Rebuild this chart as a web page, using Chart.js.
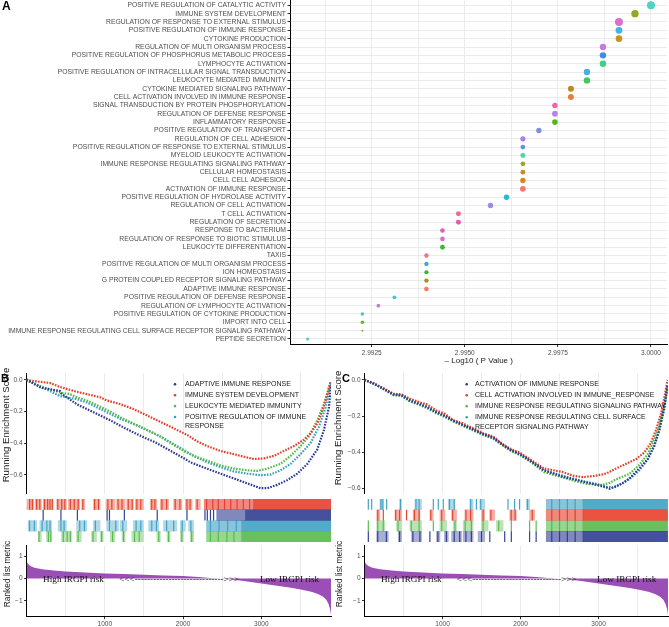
<!DOCTYPE html>
<html>
<head>
<meta charset="utf-8">
<script src="https://cdn.jsdelivr.net/npm/chart.js@4.4.1/dist/chart.umd.min.js"></script>
<style>
  html, body { margin: 0; padding: 0; background: #fff; }
  #page { position: relative; width: 669px; height: 627px; overflow: hidden; font-family: 'Liberation Sans', Arial, sans-serif; }
  canvas { position: absolute; }
  .tag { position: absolute; font-weight: bold; font-size: 12px; color: #000; line-height: 1; }
  .ytitle { position: absolute; transform: translate(-50%, -50%) rotate(-90deg); white-space: nowrap; color: #1a1a1a; line-height: 1; }
</style>
</head>
<body>
<div id="page">
  <canvas id="dotPlot" width="669" height="368" style="left:0;top:0"></canvas>

  <canvas id="esB" width="332" height="133" style="left:0;top:366px"></canvas>
  <canvas id="barB" width="332" height="43" style="left:0;top:499px"></canvas>
  <canvas id="metricB" width="332" height="87" style="left:0;top:540px"></canvas>

  <canvas id="esC" width="337" height="133" style="left:332px;top:366px"></canvas>
  <canvas id="barC" width="337" height="43" style="left:332px;top:499px"></canvas>
  <canvas id="metricC" width="337" height="87" style="left:332px;top:540px"></canvas>

  <div class="ytitle" style="left:5.5px;top:425px;font-size:9.6px">Running Enrichment Score</div>
  <div class="ytitle" style="left:7px;top:574px;font-size:8.4px">Ranked list metric</div>
  <div class="ytitle" style="left:338px;top:428px;font-size:9.6px">Running Enrichment Score</div>
  <div class="ytitle" style="left:339px;top:574px;font-size:8.4px">Ranked list metric</div>

  <div class="tag" style="left:2px;top:0">A</div>
  <div class="tag" style="left:1px;top:373px;font-size:11px">B</div>
  <div class="tag" style="left:342px;top:373px;font-size:11px">C</div>
</div>

<script>
// ---------- panel A data ----------
const termNames = [
  'POSITIVE REGULATION OF CATALYTIC ACTIVITY',
  'IMMUNE SYSTEM DEVELOPMENT',
  'REGULATION OF RESPONSE TO EXTERNAL STIMULUS',
  'POSITIVE REGULATION OF IMMUNE RESPONSE',
  'CYTOKINE PRODUCTION',
  'REGULATION OF MULTI ORGANISM PROCESS',
  'POSITIVE REGULATION OF PHOSPHORUS METABOLIC PROCESS',
  'LYMPHOCYTE ACTIVATION',
  'POSITIVE REGULATION OF INTRACELLULAR SIGNAL TRANSDUCTION',
  'LEUKOCYTE MEDIATED IMMUNITY',
  'CYTOKINE MEDIATED SIGNALING PATHWAY',
  'CELL ACTIVATION INVOLVED IN IMMUNE RESPONSE',
  'SIGNAL TRANSDUCTION BY PROTEIN PHOSPHORYLATION',
  'REGULATION OF DEFENSE RESPONSE',
  'INFLAMMATORY RESPONSE',
  'POSITIVE REGULATION OF TRANSPORT',
  'REGULATION OF CELL ADHESION',
  'POSITIVE REGULATION OF RESPONSE TO EXTERNAL STIMULUS',
  'MYELOID LEUKOCYTE ACTIVATION',
  'IMMUNE RESPONSE REGULATING SIGNALING PATHWAY',
  'CELLULAR HOMEOSTASIS',
  'CELL CELL ADHESION',
  'ACTIVATION OF IMMUNE RESPONSE',
  'POSITIVE REGULATION OF HYDROLASE ACTIVITY',
  'REGULATION OF CELL ACTIVATION',
  'T CELL ACTIVATION',
  'REGULATION OF SECRETION',
  'RESPONSE TO BACTERIUM',
  'REGULATION OF RESPONSE TO BIOTIC STIMULUS',
  'LEUKOCYTE DIFFERENTIATION',
  'TAXIS',
  'POSITIVE REGULATION OF MULTI ORGANISM PROCESS',
  'ION HOMEOSTASIS',
  'G PROTEIN COUPLED RECEPTOR SIGNALING PATHWAY',
  'ADAPTIVE IMMUNE RESPONSE',
  'POSITIVE REGULATION OF DEFENSE RESPONSE',
  'REGULATION OF LYMPHOCYTE ACTIVATION',
  'POSITIVE REGULATION OF CYTOKINE PRODUCTION',
  'IMPORT INTO CELL',
  'IMMUNE RESPONSE REGULATING CELL SURFACE RECEPTOR SIGNALING PATHWAY',
  'PEPTIDE SECRETION'
];
const log10P = [
  3.0000, 2.99957, 2.99914, 2.99914, 2.99914, 2.99871, 2.99871, 2.99871, 2.99828, 2.99828,
  2.99785, 2.99785, 2.99742, 2.99742, 2.99742, 2.99699, 2.99656, 2.99656, 2.99656, 2.99656,
  2.99656, 2.99656, 2.99656, 2.99612, 2.99569, 2.99483, 2.99483, 2.9944, 2.9944, 2.9944,
  2.99397, 2.99397, 2.99397, 2.99397, 2.99397, 2.99311, 2.99268, 2.99225, 2.99225, 2.99225,
  2.99078
];
const geneCount = [
  178, 152, 178, 128, 121, 114, 114, 114, 114, 114,
  100, 100, 81, 93, 87, 81, 75, 64, 69, 64,
  64, 81, 93, 81, 81, 69, 69, 59, 59, 64,
  54, 54, 49, 54, 59, 40, 40, 36, 36, 11,
  25
];
const pTicks = [2.9925, 2.995, 2.9975, 3.0];
const pMinorTicks = [2.99125, 2.99375, 2.99625, 2.99875];

// ---------- panels B / C data ----------
const N_GENES = 3890;
const rankTicks = [1000, 2000, 3000];
const rankMinorTicks = [500, 1500, 2500, 3500];
const esTicks = [0, -0.2, -0.4, -0.6];
const metricTicks = [1, 0, -1];

// ranked list metric (same ranked list in B and C)
const metricRank  = [0, 20, 50, 100, 200, 350, 500, 750, 1000, 1250, 1500, 1750, 2000, 2200, 2350, 2500,
                     2650, 2800, 3000, 3200, 3400, 3550, 3650, 3730, 3790, 3830, 3860, 3880, 3890];
const metricValue = [0.78, 0.66, 0.56, 0.49, 0.42, 0.36, 0.32, 0.27, 0.23, 0.2, 0.17, 0.14, 0.11, 0.07, 0.03, 0,
                     -0.05, -0.12, -0.22, -0.32, -0.42, -0.52, -0.6, -0.7, -0.82, -0.95, -1.15, -1.4, -1.65];
const riskLabels = ['High IRGPI risk', '<<<----------------------------->>>', 'Low IRGPI risk'];
const riskRank = [600, 1950, 3360];

// B gene sets
const setNamesB = ['ADAPTIVE IMMUNE RESPONSE', 'IMMUNE SYSTEM DEVELOPMENT',
                   'LEUKOCYTE MEDIATED IMMUNITY', 'POSITIVE REGULATION OF IMMUNE\nRESPONSE'];
const esAdaptive = [[0,0],[192,-0.051],[427,-0.071],[448,-0.088],[640,-0.153],[1025,-0.245],[1068,-0.255],
  [1260,-0.306],[1388,-0.337],[1516,-0.367],[1644,-0.394],[2028,-0.5],[2092,-0.52],[2306,-0.561],[2477,-0.592],
  [2647,-0.622],[2818,-0.653],[2989,-0.684],[3075,-0.684],[3203,-0.663],[3331,-0.633],[3459,-0.592],
  [3587,-0.531],[3715,-0.439],[3800,-0.316],[3864,-0.173],[3890,-0.031]];
const esImmuneDev = [[0,0],[128,-0.01],[300,-0.02],[427,-0.045],[640,-0.075],[770,-0.09],[940,-0.11],
  [1025,-0.13],[1195,-0.153],[1366,-0.184],[1537,-0.224],[1708,-0.265],[1879,-0.306],[2050,-0.347],
  [2178,-0.388],[2306,-0.418],[2477,-0.449],[2647,-0.469],[2818,-0.49],[2904,-0.5],[3032,-0.496],
  [3160,-0.48],[3288,-0.449],[3416,-0.418],[3544,-0.378],[3630,-0.337],[3715,-0.276],[3779,-0.194],
  [3843,-0.092],[3886,-0.01]];
const esLeukocyte = [[0,0],[171,-0.04],[300,-0.06],[427,-0.08],[555,-0.09],[640,-0.11],[770,-0.13],
  [940,-0.17],[1068,-0.2],[1195,-0.235],[1366,-0.276],[1537,-0.316],[1708,-0.357],[1836,-0.398],
  [2007,-0.449],[2135,-0.48],[2306,-0.51],[2477,-0.54],[2647,-0.56],[2818,-0.571],[2946,-0.575],
  [3075,-0.561],[3245,-0.53],[3373,-0.48],[3501,-0.418],[3608,-0.357],[3715,-0.255],[3800,-0.153],
  [3886,-0.01]];
const esPosRegImmune = [[0,0],[171,-0.041],[427,-0.102],[640,-0.122],[770,-0.143],[940,-0.184],
  [1195,-0.245],[1452,-0.296],[1708,-0.357],[1964,-0.429],[2135,-0.48],[2306,-0.52],[2477,-0.551],
  [2647,-0.578],[2818,-0.592],[2989,-0.602],[3117,-0.598],[3245,-0.571],[3373,-0.531],[3501,-0.469],
  [3630,-0.398],[3736,-0.296],[3822,-0.173],[3890,-0.02]];

// barcode hits: single hit ranks, and runs of dense hits [from, to]
const hitsAdaptive = [213, 440, 650, 1030, 1060, 1250, 1670, 2050, 2280, 2310, 2350, 2390];
const runsAdaptive = [[2430, 2800], [2800, 3890]];
const hitsImmuneDev = [40, 75, 130, 170, 230, 270, 300, 330, 400, 450, 490, 560, 610, 660, 720, 870, 920,
  1040, 1090, 1170, 1220, 1300, 1350, 1410, 1460, 1600, 1640, 1730, 1790, 1900, 1960, 2050, 2090, 2180,
  2300, 2380, 2450, 2530, 2610, 2690, 2770, 2850];
const runsImmuneDev = [[0,90],[110,190],[215,340],[385,510],[535,680],[705,745],[855,940],[1015,1130],
  [1150,1260],[1280,1365],[1390,1495],[1580,1665],[1710,1815],[1880,1985],[2030,2115],[2160,2220],
  [2270,2900],[2900,3890]];
const hitsLeukocyte = [160, 280, 310, 470, 520, 560, 660, 850, 960, 1100, 1240, 1380, 1440, 1690, 1815, 1985, 2110,
  2350, 2450, 2560, 2650];
const runsLeukocyte = [[150,190],[255,320],[448,575],[640,700],[830,895],[940,980],[1070,1130],[1220,1260],
  [1345,1495],[1665,1710],[1795,1835],[1965,2005],[2090,2135],[2300,2750],[2750,3890]];
const hitsPosRegImmune = [40, 100, 200, 260, 300, 440, 480, 680, 740, 880, 1060, 1140, 1230, 1400, 1460,
  1600, 1660, 1790, 1880, 1990, 2100, 2350, 2460, 2570, 2680];
const runsPosRegImmune = [[20,130],[170,320],[405,510],[640,770],[855,940],[1025,1175],[1195,1280],
  [1365,1495],[1560,1690],[1750,1920],[1965,2030],[2070,2135],[2300,2750],[2750,3890]];

// C gene sets
const setNamesC = ['ACTIVATION OF IMMUNE RESPONSE', 'CELL ACTIVATION INVOLVED IN IMMUNE_RESPONSE',
                   'IMMUNE RESPONSE REGULATING SIGNALING PATHWAY',
                   'IMMUNE RESPONSE REGULATING CELL SURFACE\nRECEPTOR SIGNALING PATHWAY'];
const esActivation = [[0,0],[113,-0.02],[241,-0.05],[369,-0.08],[475,-0.085],[582,-0.115],[710,-0.135],
  [795,-0.15],[923,-0.18],[1030,-0.2],[1136,-0.225],[1264,-0.25],[1392,-0.275],[1520,-0.3],[1648,-0.32],
  [1776,-0.36],[1882,-0.39],[1988,-0.41],[2116,-0.445],[2300,-0.5],[2544,-0.536],[2800,-0.5625],
  [2970,-0.58],[3098,-0.595],[3140,-0.602],[3225,-0.59],[3310,-0.571],[3395,-0.545],[3524,-0.49],
  [3630,-0.4375],[3715,-0.366],[3779,-0.277],[3843,-0.152],[3885,-0.027]];
const esCellAct = [[0,0],[113,-0.018],[241,-0.045],[369,-0.077],[475,-0.08],[582,-0.104],[710,-0.125],
  [795,-0.134],[923,-0.17],[1030,-0.187],[1136,-0.223],[1264,-0.241],[1392,-0.268],[1520,-0.295],
  [1648,-0.313],[1776,-0.357],[1882,-0.384],[1988,-0.402],[2116,-0.438],[2300,-0.49],[2544,-0.51],
  [2672,-0.53],[2800,-0.538],[2970,-0.53],[3098,-0.518],[3225,-0.49],[3353,-0.464],[3481,-0.438],
  [3587,-0.402],[3672,-0.348],[3736,-0.277],[3800,-0.188],[3843,-0.098],[3885,0]];
const esSignaling = [[0,0],[113,-0.02],[241,-0.05],[369,-0.085],[475,-0.09],[582,-0.12],[710,-0.14],
  [795,-0.155],[923,-0.185],[1030,-0.205],[1136,-0.23],[1264,-0.255],[1392,-0.28],[1520,-0.305],
  [1648,-0.325],[1776,-0.365],[1882,-0.395],[1988,-0.415],[2116,-0.45],[2300,-0.51],[2544,-0.54],
  [2700,-0.56],[2850,-0.575],[2970,-0.58],[3050,-0.58],[3140,-0.57],[3225,-0.55],[3395,-0.52],
  [3524,-0.47],[3630,-0.41],[3715,-0.33],[3779,-0.25],[3843,-0.14],[3885,-0.04]];
const esSurface = [[0,0],[113,-0.02],[241,-0.048],[369,-0.08],[475,-0.083],[582,-0.11],[710,-0.13],
  [795,-0.145],[923,-0.175],[1030,-0.195],[1136,-0.225],[1264,-0.25],[1392,-0.272],[1520,-0.3],
  [1648,-0.318],[1776,-0.36],[1882,-0.39],[1988,-0.41],[2116,-0.445],[2300,-0.5],[2544,-0.53],
  [2800,-0.56],[2970,-0.575],[3098,-0.59],[3180,-0.595],[3270,-0.58],[3395,-0.55],[3524,-0.5],
  [3630,-0.44],[3715,-0.36],[3779,-0.28],[3843,-0.16],[3885,-0.03]];

const hitsSurface = [49, 92, 210, 235, 284, 460, 660, 700, 882, 946, 1010, 1090, 1150, 1360, 1434, 1490,
  1839, 1924, 1988, 2090, 2400, 2500, 2600, 2700];
const runsSurface = [[198,241],[454,475],[646,731],[1074,1159],[1350,1392],[1477,1541],[2073,2116],
  [2330,2800],[2800,3885]];
const hitsCellAct = [170, 241, 400, 450, 539, 640, 700, 850, 990, 1130, 1300, 1360, 1520, 1620, 1880, 1930, 2150,
  2400, 2500, 2600, 2700];
const runsCellAct = [[156,198],[390,475],[624,710],[838,880],[967,1031],[1116,1180],[1286,1392],[1499,1541],
  [1605,1669],[1861,1946],[2116,2180],[2330,2800],[2800,3885]];
const hitsSignaling = [49, 170, 240, 430, 600, 700, 882, 990, 1160, 1290, 1370, 1520, 1720, 1882, 2116, 2200,
  2400, 2500, 2600, 2700];
const runsSignaling = [[156,262],[411,475],[582,731],[967,1052],[1137,1180],[1265,1392],[1499,1584],[1690,1776],
  [2330,2800],[2800,3885]];
const hitsActivation = [49, 170, 280, 450, 620, 710, 838, 940, 1050, 1150, 1220, 1300, 1370, 1500, 1606, 1797,
  1882, 2116, 2200, 2400, 2500, 2600, 2700];
const runsActivation = [[156,305],[433,475],[603,731],[923,967],[1024,1074],[1116,1244],[1265,1392],[1456,1541],
  [2330,2800],[2800,3885]];

// ---------- styles ----------
const dotColors = [
  '#4fd3c4', '#93aa1f', '#d96fd0', '#3db5e6', '#c99320', '#c97ad9', '#3f8fe0', '#3fcf86', '#47afe2', '#44c65e',
  '#c5861c', '#e8803d', '#f064a8', '#b882e6', '#55b81a', '#7d8fe0', '#ab80e6', '#5b97dd', '#4fd7a0', '#9aa62c',
  '#d6861f', '#d6861f', '#f8766d', '#25b8d0', '#9c8de2', '#f2679a', '#e05cb8', '#e55db0', '#d66bd6', '#34bd30',
  '#f6718a', '#44a3e3', '#30b934', '#a8911e', '#f47b62', '#3cc8d8', '#c47ad7', '#3fc7d3', '#64b82e', '#a89a30',
  '#43d3b3'
];
const NAVY = '#2b3990', RED = '#e63b26', GREEN = '#52b947', CYAN = '#3a9fc2', PURPLE = '#9b4fb6';
const GRID = '#ebebeb', TICKTXT = '#4d4d4d';
const ROW_H = 10.75;

Chart.defaults.font.family = "'Liberation Sans', Arial, sans-serif";
Chart.defaults.animation = false;
Chart.defaults.events = [];
Chart.defaults.layout.autoPadding = false;
Chart.defaults.plugins.legend.display = false;
Chart.defaults.plugins.tooltip.enabled = false;

function rgba(hex, a) {
  const n = parseInt(hex.slice(1), 16);
  return `rgba(${n >> 16},${(n >> 8) & 255},${n & 255},${a})`;
}

// run shade: longer runs of hits are denser
function runAlpha(raw) {
  if (!raw) return 0.4;
  const len = raw.x[1] - raw.x[0];
  return len > 900 ? 0.88 : len > 350 ? 0.6 : 0.4;
}

// ---------- panel A ----------
new Chart(document.getElementById('dotPlot'), {
  type: 'scatter',
  data: {
    datasets: [{
      data: log10P.map((v, i) => ({ x: v, y: i + 1 })),
      pointRadius: geneCount.map(n => Math.sqrt(n) * 0.3),
      backgroundColor: dotColors,
      borderWidth: 0
    }]
  },
  options: {
    responsive: false,
    layout: { padding: { top: 0.3, right: 2, left: 0, bottom: 0 } },
    scales: {
      x: {
        type: 'linear', min: 2.99032, max: 3.00043,
        afterBuildTicks: s => { s.ticks = [...pTicks, ...pMinorTicks].sort((a, b) => a - b).map(v => ({ value: v })); },
        ticks: { autoSkip: false, maxRotation: 0, font: { size: 6.5 }, color: TICKTXT, padding: 2,
                 callback: v => pTicks.includes(v) ? v.toFixed(4) : '' },
        grid: { color: GRID, tickLength: 3,
                tickColor: c => (c.tick && pTicks.includes(c.tick.value)) ? '#333' : 'rgba(0,0,0,0)' },
        border: { color: '#000' },
        title: { display: true, text: '\u2013 Log10 ( P Value )', font: { size: 8 }, color: '#1a1a1a', padding: { top: 0, bottom: 2 } },
        afterFit: s => { s.height = 24; s.paddingLeft = 0; s.paddingRight = 0; }
      },
      y: {
        type: 'linear', reverse: true, min: 0.4, max: 41.6,
        afterBuildTicks: s => { s.ticks = termNames.map((_, i) => ({ value: i + 1 })); },
        ticks: { autoSkip: false, font: { size: 6.8 }, color: TICKTXT, padding: 1.5, callback: v => termNames[v - 1] },
        grid: { color: GRID, tickLength: 3, tickColor: '#333' },
        border: { color: '#000' },
        afterFit: s => { s.width = 290.5; s.paddingTop = 0; s.paddingBottom = 0; }
      }
    }
  }
});

// ---------- panels B / C ----------
const setLegend = {
  id: 'setLegend',
  afterDatasetsDraw(chart, args, opts) {
    const ctx = chart.ctx;
    ctx.save();
    ctx.font = "7px 'Liberation Sans', Arial, sans-serif";
    ctx.textBaseline = 'middle';
    let y = opts.top;
    chart.data.datasets.forEach(ds => {
      ctx.fillStyle = ds.borderColor;
      ctx.beginPath();
      ctx.arc(opts.dotX, y, 1.3, 0, Math.PI * 2);
      ctx.fill();
      ctx.fillStyle = '#1a1a1a';
      const lines = ds.label.split('\n');
      lines.forEach((t, k) => ctx.fillText(t, opts.textX, y + k * opts.lineGap));
      y += opts.rowGap + (lines.length - 1) * opts.lineGap;
    });
    ctx.restore();
  }
};

const riskText = {
  id: 'riskText',
  afterDatasetsDraw(chart) {
    const { ctx, scales: { x, y } } = chart;
    ctx.save();
    ctx.font = "9.2px 'Liberation Serif', 'Times New Roman', serif";
    ctx.textAlign = 'center';
    ctx.textBaseline = 'middle';
    ctx.fillStyle = '#111';
    riskLabels.forEach((t, i) => ctx.fillText(t, x.getPixelForValue(riskRank[i]), y.getPixelForValue(0) + 1));
    ctx.restore();
  }
};

function rankAxis(withLabels) {
  return {
    type: 'linear', min: 0, max: N_GENES,
    afterBuildTicks: s => { s.ticks = [...rankTicks, ...rankMinorTicks].sort((a, b) => a - b).map(v => ({ value: v })); },
    ticks: { display: withLabels, autoSkip: false, maxRotation: 0, font: { size: 6.5 }, color: TICKTXT, padding: 1,
             callback: v => rankTicks.includes(v) ? String(v) : '' },
    grid: { color: GRID, drawTicks: withLabels, tickLength: 2.5,
            tickColor: c => (c.tick && rankTicks.includes(c.tick.value)) ? '#333' : 'rgba(0,0,0,0)' },
    border: { display: withLabels, color: '#000' },
    afterFit: s => { s.height = withLabels ? 10.3 : 0; }
  };
}

function valueAxis(min, max, ticks, fmt, width) {
  return {
    type: 'linear', min, max,
    afterBuildTicks: s => { s.ticks = ticks.map(v => ({ value: v })); },
    ticks: { font: { size: 6.5 }, color: TICKTXT, padding: 1.5, callback: fmt },
    grid: { drawOnChartArea: false, tickLength: 2.5, tickColor: '#333' },
    border: { color: '#000' },
    afterFit: s => { s.width = width; }
  };
}

const fmtES = v => v === 0 ? '0.0' : '\u2212' + Math.abs(v).toFixed(1);
const fmtMetric = v => v < 0 ? '\u2212' + Math.abs(v) : String(v);

function esChart(id, sets, yMin, yMax, plotLeft, padRight, legendOpts) {
  new Chart(document.getElementById(id), {
    type: 'scatter',
    data: {
      datasets: sets.map(s => ({
        label: s.name,
        data: s.es.map(p => ({ x: p[0], y: p[1] })),
        showLine: true,
        borderColor: s.color,
        borderWidth: 2.2,
        borderDash: [1.6, 1.3],
        pointRadius: 0
      }))
    },
    options: {
      responsive: false,
      layout: { padding: { top: 7, right: padRight, bottom: 2, left: 0 } },
      plugins: { setLegend: legendOpts },
      scales: {
        x: rankAxis(false),
        y: valueAxis(yMin, yMax, esTicks, fmtES, plotLeft)
      }
    },
    plugins: [setLegend]
  });
}

function barcodeChart(id, sets, plotLeft, padRight) {
  const datasets = [];
  sets.forEach(s => {
    datasets.push({
      type: 'bar', indexAxis: 'y', grouped: false,
      data: s.runs.map(r => ({ x: [r[0], r[1]], y: s.row })),
      backgroundColor: c => rgba(s.color, runAlpha(c.raw)),
      barThickness: ROW_H,
      borderWidth: 0
    });
    datasets.push({
      type: 'scatter',
      data: s.hits.map(h => ({ x: h, y: s.row })),
      pointStyle: 'line', pointRotation: 90, pointRadius: ROW_H / 2,
      pointBorderWidth: 1.2, pointBorderColor: rgba(s.color, 0.95)
    });
  });
  new Chart(document.getElementById(id), {
    type: 'scatter',
    data: { datasets },
    options: {
      responsive: false,
      layout: { padding: { top: 0, right: padRight, bottom: 0, left: plotLeft } },
      scales: {
        x: { type: 'linear', min: 0, max: N_GENES, display: false, offset: false, grid: { offset: false } },
        y: { type: 'linear', min: -0.5, max: 3.5, reverse: true, display: false, offset: false, grid: { offset: false } }
      }
    }
  });
}

function metricChart(id, plotLeft, padRight) {
  new Chart(document.getElementById(id), {
    type: 'line',
    data: {
      datasets: [{
        data: metricRank.map((r, i) => ({ x: r, y: metricValue[i] })),
        fill: 'origin', backgroundColor: PURPLE, borderWidth: 0, pointRadius: 0
      }]
    },
    options: {
      responsive: false,
      layout: { padding: { top: 3, right: padRight, bottom: 0, left: 0 } },
      scales: {
        x: rankAxis(true),
        y: valueAxis(-1.713, 1.49, metricTicks, fmtMetric, plotLeft)
      }
    },
    plugins: [riskText]
  });
}

// panel B
const setsB = [
  { name: setNamesB[0], color: NAVY,  es: esAdaptive,     row: 1, hits: hitsAdaptive,     runs: runsAdaptive },
  { name: setNamesB[1], color: RED,   es: esImmuneDev,    row: 0, hits: hitsImmuneDev,    runs: runsImmuneDev },
  { name: setNamesB[2], color: GREEN, es: esLeukocyte,    row: 3, hits: hitsLeukocyte,    runs: runsLeukocyte },
  { name: setNamesB[3], color: CYAN,  es: esPosRegImmune, row: 2, hits: hitsPosRegImmune, runs: runsPosRegImmune }
];
esChart('esB', setsB, -0.718, 0.043, 26.5, 1, { dotX: 175, textX: 185, top: 18.3, rowGap: 10.9, lineGap: 8.7 });
barcodeChart('barB', setsB, 26.5, 1);
metricChart('metricB', 26.5, 1);

// panel C
const setsC = [
  { name: setNamesC[0], color: NAVY,  es: esActivation, row: 3, hits: hitsActivation, runs: runsActivation },
  { name: setNamesC[1], color: RED,   es: esCellAct,    row: 1, hits: hitsCellAct,    runs: runsCellAct },
  { name: setNamesC[2], color: GREEN, es: esSignaling,  row: 2, hits: hitsSignaling,  runs: runsSignaling },
  { name: setNamesC[3], color: CYAN,  es: esSurface,    row: 0, hits: hitsSurface,    runs: runsSurface }
];
esChart('esC', setsC, -0.629, 0.038, 32.5, 1, { dotX: 134.7, textX: 143, top: 18.3, rowGap: 11, lineGap: 9.4 });
barcodeChart('barC', setsC, 32.5, 1);
metricChart('metricC', 32.5, 1);
</script>
</body>
</html>
